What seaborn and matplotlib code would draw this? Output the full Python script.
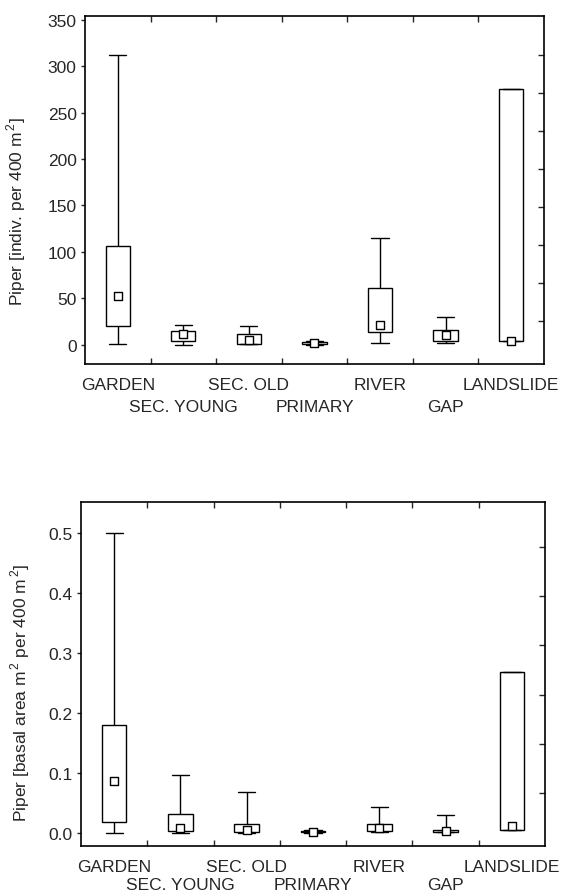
import numpy as np
import pandas as pd
import seaborn as sns
import matplotlib.pyplot as plt
from matplotlib.ticker import FixedLocator

# Sites along the x axis
categories = ['GARDEN', 'SEC. YOUNG', 'SEC. OLD', 'PRIMARY', 'RIVER', 'GAP', 'LANDSLIDE']

# Top panel: individuals per 400 m2 (min, 25%, median, 75%, max)
ind_min = [0.5, 0, 1, 0, 2, 2, 3.6]
ind_q1 = [19.6, 4, 1, 1, 14, 3.6, 3.6]
ind_med = [52, 11, 5, 2, 21, 10, 4]
ind_q3 = [106, 15, 11, 3, 60.5, 16, 275.5]
ind_max = [312, 21, 20, 4, 115, 30, 275.5]

# Bottom panel: basal area m2 per 400 m2
ba_min = [0.0, 0.001, 0.001, 0.001, 0.003, 0.002, 0.005]
ba_q1 = [0.019, 0.004, 0.002, 0.002, 0.004, 0.003, 0.005]
ba_med = [0.087, 0.009, 0.005, 0.003, 0.009, 0.004, 0.012]
ba_q3 = [0.18, 0.032, 0.016, 0.004, 0.016, 0.005, 0.268]
ba_max = [0.5, 0.098, 0.069, 0.005, 0.044, 0.031, 0.268]

top_yticks = [0, 50, 100, 150, 200, 250, 300, 350]
bot_yticks = [0.0, 0.1, 0.2, 0.3, 0.4, 0.5]

sns.set_style('ticks')
plt.rcParams['font.family'] = ['Liberation Sans', 'DejaVu Sans']
plt.rcParams['mathtext.fontset'] = 'custom'
plt.rcParams['mathtext.rm'] = 'Liberation Sans'


def long_table(mins, q1s, meds, q3s, maxs):
    rows = []
    for c, a, b, m, d, e in zip(categories, mins, q1s, meds, q3s, maxs):
        for v in (a, b, m, d, e):
            rows.append({'site': c, 'value': v})
    return pd.DataFrame(rows)


def draw_panel(ax, df, meds, yticks, ylim, ylabel, fmt, label_xy, right_ticks, pads):
    sns.boxplot(data=df, x='site', y='value', order=categories, ax=ax,
                whis=(0, 100), width=0.37, color='white', linecolor='black',
                linewidth=1.0, showfliers=False, medianprops={'linewidth': 0},
                capwidths=0.26)
    sns.stripplot(x=categories, y=meds, order=categories, ax=ax, jitter=False,
                  marker='s', size=5.5, color='white', edgecolor='black',
                  linewidth=1.0, zorder=5)
    ax.set_xlim(-0.5, len(categories) - 0.5)
    ax.set_ylim(*ylim)
    ax.set_yticks(yticks)
    ax.set_yticklabels([fmt.format(t) for t in yticks])
    ax.set_xticks(range(len(categories)))
    ax.set_xticklabels(categories, fontsize=12.5, va='top')
    ax.xaxis.set_minor_locator(FixedLocator(np.arange(0.5, len(categories) - 1, 1.0)))
    ax.yaxis.set_minor_locator(FixedLocator(right_ticks))
    ax.tick_params(axis='x', which='major', length=0)
    ax.tick_params(axis='x', which='minor', direction='in', length=4, width=1,
                   top=True, bottom=True)
    ax.tick_params(axis='y', which='major', direction='out', length=3, width=1,
                   labelsize=12.5, pad=3)
    ax.tick_params(axis='y', which='minor', direction='in', length=4, width=1,
                   left=False, right=True)
    # alternate the site names on two rows
    for i, tick in enumerate(ax.xaxis.get_major_ticks()):
        tick.set_pad(pads[i % 2])
    for s in ax.spines.values():
        s.set_linewidth(1.2)
        s.set_color('black')
    ax.set_xlabel('')
    ax.set_ylabel(ylabel, fontsize=12.5)
    ax.yaxis.set_label_coords(*label_xy)


fig = plt.figure(figsize=(5.68, 8.95), dpi=100)
ax1 = fig.add_axes([0.1496, 0.592, 0.808, 0.389])
ax2 = fig.add_axes([0.1426, 0.0535, 0.817, 0.3845])

draw_panel(ax1, long_table(ind_min, ind_q1, ind_med, ind_q3, ind_max), ind_med,
           top_yticks, (-21, 354), r'Piper [indiv. per 400 m$^{\,2}$]', '{:g}',
           (-0.124, 0.44), np.arange(25, 320, 41.0), (9, 25))
draw_panel(ax2, long_table(ba_min, ba_q1, ba_med, ba_q3, ba_max), ba_med,
           bot_yticks, (-0.021, 0.551), r'Piper [basal area m$^{\,2}$ per 400 m$^{\,2}$]',
           '{:.1f}', (-0.106, 0.447), np.arange(0.067, 0.5, 0.082), (9, 22))

fig.savefig('out.png', dpi=100)
